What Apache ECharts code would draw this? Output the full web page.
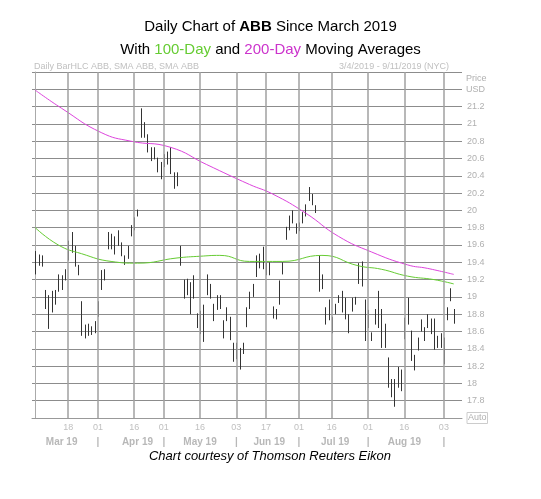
<!DOCTYPE html>
<html>
<head>
<meta charset="utf-8">
<script src="https://cdn.jsdelivr.net/npm/echarts@6/dist/echarts.min.js"></script>
<style>html,body{margin:0;padding:0;background:#fff}#chart{width:541px;height:499px}</style>
</head>
<body>
<div id="chart"></div>
<script>
// daily highs / lows, one per trading day starting 3/4/2019
const highs = [19.53,19.49,19.48,19.08,19.02,19.07,19.08,19.26,19.25,19.32,19.65,19.75,19.59,19.37,18.95,18.68,18.69,18.66,18.72,18.95,
  19.31,19.32,19.75,19.73,19.70,19.77,19.63,19.48,19.59,19.83,19.92,20.01,21.18,21.02,20.88,20.73,20.73,20.61,20.56,20.65,
  20.68,20.73,20.44,20.44,19.59,19.20,19.21,19.17,19.25,18.81,18.84,18.91,19.26,19.15,18.92,19.02,19.02,18.73,18.88,18.77,
  18.47,18.47,18.41,18.47,18.88,19.06,19.15,19.48,19.50,19.58,19.40,19.40,18.89,18.86,19.19,19.40,19.81,19.94,20.00,19.85,
  19.86,19.98,20.07,20.27,20.19,20.06,19.48,19.26,18.88,18.97,18.77,18.92,19.02,19.07,18.99,18.80,18.99,19.00,19.39,19.41,
  18.97,18.85,18.59,18.86,19.07,18.86,18.69,18.30,18.05,18.05,18.19,18.16,18.76,18.99,18.61,18.33,18.53,18.74,18.65,18.80,
  18.75,18.75,18.55,18.58,18.53,18.88,19.10,18.86];
const lows = [19.26,19.36,19.35,18.86,18.63,18.82,18.91,19.06,19.08,19.19,19.42,19.51,19.35,19.25,18.55,18.52,18.55,18.56,18.58,18.77,
  19.08,19.19,19.55,19.55,19.49,19.59,19.47,19.37,19.44,19.70,19.77,19.93,20.84,20.84,20.67,20.57,20.59,20.44,20.36,20.50,
  20.53,20.42,20.25,20.28,19.36,18.98,19.02,18.80,18.98,18.64,18.57,18.48,19.02,18.98,18.72,18.85,18.86,18.52,18.72,18.50,
  18.25,18.28,18.16,18.34,18.65,18.86,19.00,19.23,19.33,19.32,19.25,19.25,18.75,18.74,18.91,19.26,19.66,19.77,19.85,19.73,
  19.76,19.85,19.93,20.11,20.06,19.97,19.06,19.09,18.68,18.73,18.58,18.80,18.93,18.82,18.74,18.58,18.83,18.91,19.15,19.12,
  18.49,18.64,18.49,18.68,18.64,18.41,18.41,17.95,17.84,17.73,17.95,17.91,18.51,18.68,18.26,18.15,18.38,18.60,18.49,18.64,
  18.57,18.39,18.41,18.41,18.22,18.73,18.95,18.69];
// moving averages read at a few bars
const sma100Idx = [0, 7, 14, 23, 31, 43, 50, 56, 65, 75, 87, 98, 105, 113, 121, 127];
const sma100Val = [19.80,19.60,19.50,19.41,19.39,19.45,19.47,19.48,19.41,19.41,19.48,19.36,19.32,19.24,19.20,19.15];
const sma200Idx = [0, 8, 20, 29, 41, 52, 65, 72, 82, 92, 102, 113, 119, 127];
const sma200Val = [21.39,21.18,20.90,20.80,20.73,20.53,20.30,20.19,19.97,19.70,19.52,19.37,19.33,19.26];
// x-axis labels (bar index -> text)
const tickIdx = [10, 19, 30, 39, 50, 61, 70, 80, 90, 101, 112, 124];
const tickText = ['18', '01', '16', '01', '16', '03', '17', '01', '16', '01', '16', '03'];
const monthIdx = [8, 31, 50, 71, 91, 112];
const monthText = ['Mar 19', 'Apr 19', 'May 19', 'Jun 19', 'Jul 19', 'Aug 19'];
const monthSepIdx = [19, 39, 61, 80, 101, 124];

const chart = echarts.init(document.getElementById('chart'));
const bars = highs.map((h, i) => [i, h, lows[i]]);
const font = '"Liberation Sans", Arial, sans-serif';

chart.setOption({
  animation: false,
  backgroundColor: '#fff',
  title: {
    left: 'center', top: 10,
    text: '{n|Daily Chart of }{b|ABB}{n| Since March 2019}\n{n|With }{g|100-Day}{n| and }{m|200-Day}{n| Moving Averages}',
    textStyle: {
      fontFamily: font, fontWeight: 'normal',
      rich: {
        n: { fontSize: 15, color: '#000', fontWeight: 'normal', fontFamily: font, lineHeight: 23 },
        b: { fontSize: 15, color: '#000', fontWeight: 'bold', fontFamily: font, lineHeight: 23 },
        g: { fontSize: 15, color: '#66cc33', fontWeight: 'normal', fontFamily: font, lineHeight: 23 },
        m: { fontSize: 15, color: '#cc33cc', fontWeight: 'normal', fontFamily: font, lineHeight: 23 }
      }
    }
  },
  graphic: [
    { type: 'text', left: 34, top: 62, style: { text: 'Daily BarHLC ABB, SMA ABB, SMA ABB', fill: '#c0c0c0', font: '9px ' + font } },
    { type: 'text', right: 92, top: 62, style: { text: '3/4/2019 - 9/11/2019 (NYC)', fill: '#c0c0c0', font: '9px ' + font } },
    { type: 'text', left: 466, top: 73, style: { text: 'Price\nUSD', fill: '#b0b0b0', font: '9px ' + font, lineHeight: 11 } },
    { type: 'text', x: 270, y: 450, style: { text: 'Chart courtesy of Thomson Reuters Eikon', fill: '#000', font: 'italic 13px ' + font, textAlign: 'center' } }
  ],
  grid: { left: 32, right: 79, top: 72, bottom: 81 },
  xAxis: [
    {
      type: 'value', min: -1, max: 129.5, interval: 1,
      axisLine: { lineStyle: { color: '#999' } },
      axisTick: { show: false },
      splitLine: { show: false },
      axisLabel: {
        color: '#c0c0c0', fontSize: 9, fontFamily: font, margin: 5, showMinLabel: false, showMaxLabel: false,
        formatter: v => { const k = tickIdx.indexOf(v); return k >= 0 ? tickText[k] : ''; }
      }
    },
    {
      type: 'value', min: -1, max: 129.5, interval: 1, position: 'bottom', offset: 11,
      axisLine: { show: false }, axisTick: { show: false }, splitLine: { show: false },
      axisLabel: {
        color: '#b8b8b8', fontSize: 10, fontWeight: 'bold', fontFamily: font, showMinLabel: false, showMaxLabel: false,
        formatter: v => {
          const k = monthIdx.indexOf(v);
          if (k >= 0) return monthText[k];
          return monthSepIdx.indexOf(v) >= 0 ? '|' : '';
        }
      }
    }
  ],
  yAxis: {
    type: 'value', position: 'right', min: 17.6, max: 21.6, interval: 0.2,
    axisLine: { show: true, lineStyle: { color: '#aaa' } },
    axisTick: { show: false },
    splitLine: { lineStyle: { color: '#8c8c8c', width: 1 } },
    axisLabel: {
      color: '#b0b0b0', fontSize: 9, fontFamily: font, margin: 5,
      formatter: v => {
        if (v < 17.65) return '{a|Auto}';
        if (v > 21.3) return '';
        return String(+v.toFixed(1));
      },
      rich: { a: { color: '#b0b0b0', fontSize: 9, borderColor: '#ccc', borderWidth: 1, padding: [1, 1] } }
    }
  },
  series: [
    {
      type: 'line', data: [], silent: true,
      markLine: {
        silent: true, symbol: 'none', label: { show: false },
        lineStyle: { color: '#a0a0a0', type: 'solid', width: 1.5 },
        data: tickIdx.map(i => ({ xAxis: i }))
      }
    },
    {
      type: 'custom',
      data: bars,
      encode: { x: 0, y: [1, 2] },
      renderItem: (params, api) => {
        const top = api.coord([api.value(0), api.value(1)]);
        const bot = api.coord([api.value(0), api.value(2)]);
        const x = Math.round(top[0]) + 0.5;
        return { type: 'line', shape: { x1: x, y1: top[1], x2: x, y2: bot[1] }, style: { stroke: '#333', lineWidth: 1 } };
      },
      z: 3
    },
    {
      type: 'line', smooth: true, symbol: 'none',
      data: sma100Idx.map((x, i) => [x, sma100Val[i]]),
      lineStyle: { color: '#66cc33', width: 1 }, z: 4
    },
    {
      type: 'line', smooth: true, symbol: 'none',
      data: sma200Idx.map((x, i) => [x, sma200Val[i]]),
      lineStyle: { color: '#dd44dd', width: 1 }, z: 4
    }
  ]
});
</script>
</body>
</html>
